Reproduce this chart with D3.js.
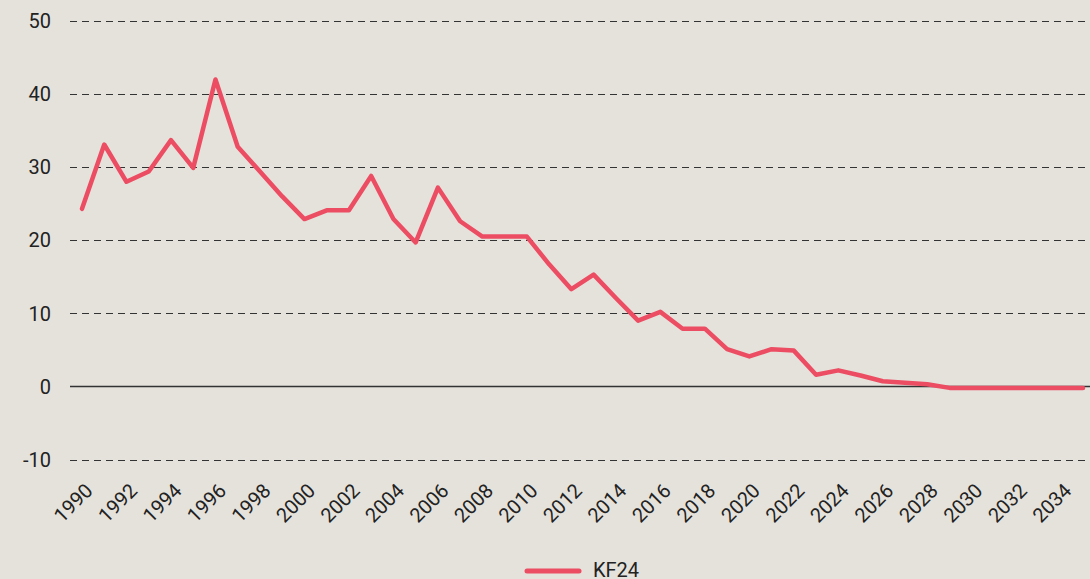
<!DOCTYPE html>
<html>
<head>
<meta charset="utf-8">
<script src="https://cdn.jsdelivr.net/npm/d3@7"></script>
<style>
  body { margin: 0; background: #e5e2dc; }
  svg { display: block; font-family: Roboto, "Noto Sans", sans-serif; }
</style>
</head>
<body>
<script>
var width = 1090, height = 579;

// years 1990..2035
var years = [1990,1991,1992,1993,1994,1995,1996,1997,1998,1999,
             2000,2001,2002,2003,2004,2005,2006,2007,2008,2009,
             2010,2011,2012,2013,2014,2015,2016,2017,2018,2019,
             2020,2021,2022,2023,2024,2025,2026,2027,2028,2029,
             2030,2031,2032,2033,2034,2035];
var kf24 = [24.3,33.1,28.0,29.4,33.7,29.9,42.0,32.8,29.4,26.0,
            22.9,24.1,24.1,28.8,22.9,19.7,27.2,22.6,20.5,20.5,
            20.5,16.7,13.3,15.3,12.1,9.0,10.2,7.9,7.9,5.1,
            4.1,5.1,4.9,1.6,2.2,1.5,0.7,0.5,0.3,-0.2,
            -0.2,-0.2,-0.2,-0.2,-0.2,-0.2];
var yTicks = [-10,0,10,20,30,40,50];
var xTickYears = years.filter(function(d) { return d % 2 == 0; });
var seriesName = "KF24";

var svg = d3.select("body").append("svg")
    .attr("width", width)
    .attr("height", height);

var x = d3.scalePoint().domain(years).range([82, 1083]);
var y = d3.scaleLinear().domain([-10, 50]).range([459.5, 21]);

var gridLeft = 70, gridRight = 1090;

// gridlines
svg.append("g").selectAll("line")
    .data(yTicks.filter(function(d) { return d != 0; }))
    .enter().append("line")
    .attr("x1", gridLeft).attr("x2", gridRight)
    .attr("y1", function(d) { return Math.round(y(d)) + 0.5; })
    .attr("y2", function(d) { return Math.round(y(d)) + 0.5; })
    .attr("stroke", "#333")
    .attr("stroke-width", 1)
    .attr("stroke-dasharray", "7,5");

// zero line
svg.append("line")
    .attr("x1", gridLeft).attr("x2", gridRight)
    .attr("y1", y(0)).attr("y2", y(0))
    .attr("stroke", "#333")
    .attr("stroke-width", 1.5);

// y axis labels
svg.append("g").selectAll("text")
    .data(yTicks)
    .enter().append("text")
    .attr("x", 51)
    .attr("y", function(d) { return y(d); })
    .attr("dy", "0.36em")
    .attr("text-anchor", "end")
    .attr("font-size", 20)
    .attr("fill", "#222")
    .text(function(d) { return d; });

// x axis labels, rotated
svg.append("g").selectAll("text")
    .data(xTickYears)
    .enter().append("text")
    .attr("transform", function(d) { return "translate(" + (x(d) + 7) + ",487) rotate(-45)"; })
    .attr("text-anchor", "end")
    .attr("dy", "0.35em")
    .attr("font-size", 20)
    .attr("fill", "#222")
    .text(function(d) { return d; });

// the line
var line = d3.line()
    .x(function(d, i) { return x(years[i]); })
    .y(function(d) { return y(d); });

svg.append("path")
    .datum(kf24)
    .attr("d", line)
    .attr("fill", "none")
    .attr("stroke", "#ec4d63")
    .attr("stroke-width", 4.5)
    .attr("stroke-linejoin", "round")
    .attr("stroke-linecap", "round");

// legend
var legend = svg.append("g");
legend.append("line")
    .attr("x1", 527).attr("x2", 579)
    .attr("y1", 571).attr("y2", 571)
    .attr("stroke", "#ec4d63")
    .attr("stroke-width", 5)
    .attr("stroke-linecap", "round");
legend.append("text")
    .attr("x", 593).attr("y", 570)
    .attr("dy", "0.36em")
    .attr("font-size", 20)
    .attr("fill", "#222")
    .text(seriesName);
</script>
</body>
</html>
